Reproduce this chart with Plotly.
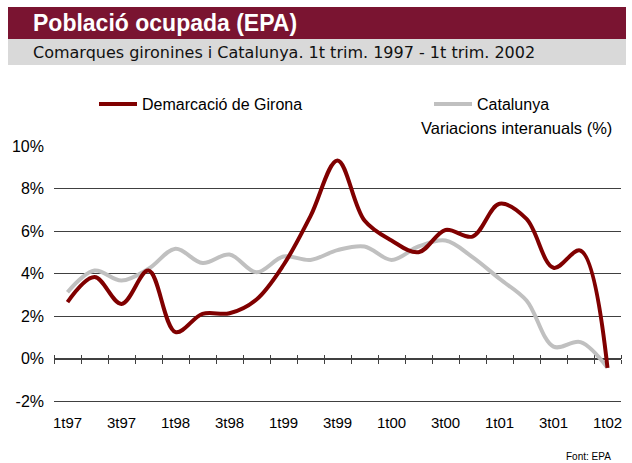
import plotly.graph_objects as go

# ---- data ----
quarters = ["1t97", "2t97", "3t97", "4t97", "1t98", "2t98", "3t98", "4t98",
            "1t99", "2t99", "3t99", "4t99", "1t00", "2t00", "3t00", "4t00",
            "1t01", "2t01", "3t01", "4t01", "1t02"]
girona = [2.65, 3.83, 2.57, 4.14, 1.24, 2.10, 2.13, 2.78, 4.40, 6.70, 9.32,
          6.49, 5.55, 5.00, 6.05, 5.74, 7.28, 6.57, 4.27, 5.08, -0.44]
catalunya = [3.12, 4.14, 3.67, 4.22, 5.16, 4.49, 4.89, 4.06, 4.80, 4.64, 5.10,
             5.27, 4.64, 5.27, 5.55, 4.77, 3.75, 2.73, 0.56, 0.77, -0.44]
x_tick_labels = quarters[::2]
y_tick_vals = [-2, 0, 2, 4, 6, 8, 10]
y_tick_text = ["-2%", "0%", "2%", "4%", "6%", "8%", "10%"]

# ---- layout geometry (pixels) ----
W, H = 632, 463
L, R, T, B = 54, 621, 146, 401
pw, ph = R - L, B - T


def px(X):
    return (X - L) / pw


def py(Y):
    return (B - Y) / ph


FONT = "Liberation Sans"
RED = "#800000"
GRAY = "#C0C0C0"
GRID = "#404040"

fig = go.Figure()
fig.add_trace(go.Scatter(x=quarters, y=catalunya, mode="lines", name="Catalunya",
                         legend="legend2",
                         line=dict(color=GRAY, width=4, shape="spline", smoothing=1.0)))
fig.add_trace(go.Scatter(x=quarters, y=girona, mode="lines", name="Demarcació de Girona",
                         legend="legend",
                         line=dict(color=RED, width=4, shape="spline", smoothing=1.0)))

zero_pos = (0 - (-2)) / 12.0

legend_common = dict(orientation="h", xanchor="left", yanchor="middle",
                     itemwidth=38, font=dict(family=FONT, size=16),
                     bgcolor="rgba(0,0,0,0)")

fig.update_layout(
    width=W, height=H,
    margin=dict(l=L, r=W - R, t=T, b=H - B),
    paper_bgcolor="white", plot_bgcolor="white",
    font=dict(family=FONT, size=15, color="#000000"),
    showlegend=True,
    legend=dict(x=px(94), y=py(104), **legend_common),
    legend2=dict(x=px(429), y=py(104), **legend_common),
    xaxis=dict(type="category", categoryorder="array", categoryarray=quarters,
               range=[-0.5, len(quarters) - 0.5],
               tickvals=x_tick_labels, ticktext=x_tick_labels,
               showgrid=False, zeroline=False, ticks="",
               showline=True, linecolor=GRID, linewidth=1, mirror=False,
               ticklabelstandoff=8, tickfont=dict(size=15)),
    xaxis2=dict(overlaying="x", anchor="free", position=zero_pos, side="bottom",
                range=[-0.5, len(quarters) - 0.5], tick0=-0.5, dtick=1,
                ticks="outside", ticklen=4, tickcolor=GRID, tickwidth=1,
                showticklabels=False, showgrid=False, zeroline=False,
                showline=True, linecolor=GRID, linewidth=1, layer="below traces"),
    xaxis3=dict(overlaying="x", anchor="free", position=zero_pos, side="top",
                range=[-0.5, len(quarters) - 0.5], tick0=-0.5, dtick=1,
                ticks="outside", ticklen=4, tickcolor=GRID, tickwidth=1,
                showticklabels=False, showgrid=False, zeroline=False,
                showline=False, layer="below traces"),
    yaxis=dict(range=[-2, 10], tickvals=y_tick_vals, ticktext=y_tick_text,
               showgrid=True, gridcolor=GRID, gridwidth=1, zeroline=False,
               showline=False, ticks="", ticklabelstandoff=9,
               tickfont=dict(size=16)),
)

# title band
fig.add_shape(type="rect", xref="paper", yref="paper",
              x0=px(8), x1=px(626), y0=py(39), y1=py(7),
              fillcolor="#7A1431", line_width=0, layer="below")
fig.add_shape(type="rect", xref="paper", yref="paper",
              x0=px(8), x1=px(626), y0=py(65), y1=py(39),
              fillcolor="#D9D9D9", line_width=0, layer="below")

fig.add_annotation(text="<b>Població ocupada (EPA)</b>", xref="paper", yref="paper",
                   x=px(31), y=py(23), xanchor="left", yanchor="middle", showarrow=False,
                   font=dict(family=FONT, size=23, color="white"))
fig.add_annotation(text="Comarques gironines i Catalunya. 1t trim. 1997 - 1t trim. 2002",
                   xref="paper", yref="paper", x=px(31), y=py(52), xanchor="left",
                   yanchor="middle", showarrow=False,
                   font=dict(family="DejaVu Sans", size=16, color="#111111"))
fig.add_annotation(text="Variacions interanuals (%)", xref="paper", yref="paper",
                   x=px(614), y=py(128), xanchor="right", yanchor="middle",
                   showarrow=False, font=dict(family=FONT, size=16.5))
fig.add_annotation(text="Font: EPA", xref="paper", yref="paper",
                   x=px(613), y=py(456), xanchor="right", yanchor="middle",
                   showarrow=False, font=dict(family=FONT, size=10))

# dummy traces so overlay axes are drawn
fig.add_trace(go.Scatter(x=[0], y=[None], xaxis="x2", showlegend=False, hoverinfo="skip"))
fig.add_trace(go.Scatter(x=[0], y=[None], xaxis="x3", showlegend=False, hoverinfo="skip"))

fig.write_html("out.html", config={"displayModeBar": False},
               post_script="document.body.style.margin='0';document.body.style.overflow='hidden';")
